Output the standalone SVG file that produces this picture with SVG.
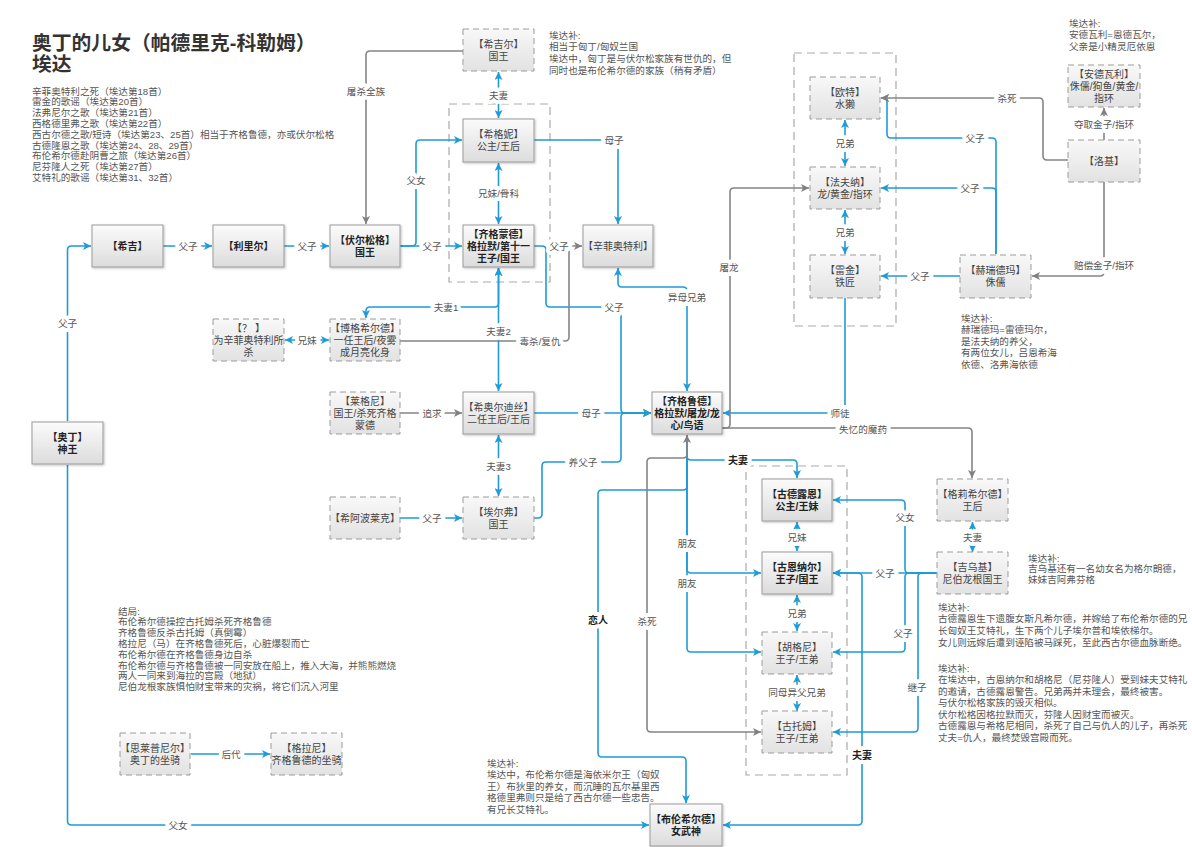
<svg xmlns="http://www.w3.org/2000/svg" width="1192" height="847" viewBox="0 0 1192 847">
<defs>
<linearGradient id="gs" x1="0" y1="0" x2="0" y2="1"><stop offset="0" stop-color="#fbfbfb"/><stop offset="1" stop-color="#dcdcdc"/></linearGradient>
<linearGradient id="gd" x1="0" y1="0" x2="0" y2="1"><stop offset="0" stop-color="#f8f8f8"/><stop offset="1" stop-color="#e2e2e2"/></linearGradient>
<filter id="sh" x="-10%" y="-10%" width="130%" height="130%"><feDropShadow dx="1" dy="1" stdDeviation="0.8" flood-color="#000" flood-opacity="0.25"/></filter>
<marker id="ab" viewBox="0 0 10 10" refX="10" refY="5" markerWidth="8" markerHeight="8" markerUnits="userSpaceOnUse" orient="auto-start-reverse"><path d="M0,0 L10,5 L0,10 L2.5,5 z" fill="#1f9bd7"/></marker>
<marker id="ag" viewBox="0 0 10 10" refX="10" refY="5" markerWidth="8" markerHeight="8" markerUnits="userSpaceOnUse" orient="auto-start-reverse"><path d="M0,0 L10,5 L0,10 L2.5,5 z" fill="#808080"/></marker>
<style>
text{font-family:"Liberation Sans","Noto Sans CJK SC",sans-serif;}
.bs{fill:url(#gs);stroke:#9b9b9b;stroke-width:1;filter:url(#sh);}
.bd{fill:url(#gd);stroke:#9b9b9b;stroke-width:1;stroke-dasharray:6 4;}
.grp{fill:none;stroke:#aaa;stroke-width:1.2;stroke-dasharray:8 5;}
.t{font-size:10px;fill:#444;text-anchor:middle;}
.tb{font-size:10px;fill:#222;text-anchor:middle;font-weight:bold;}
.cb{fill:none;stroke:#1f9bd7;stroke-width:1.6;}
.cg{fill:none;stroke:#858585;stroke-width:1.6;}
.eb{marker-end:url(#ab);}
.bb{marker-start:url(#ab);marker-end:url(#ab);}
.eg{marker-end:url(#ag);}
.bg{marker-start:url(#ag);marker-end:url(#ag);}
.lb{font-size:9.6px;fill:#555;text-anchor:middle;stroke:#fff;stroke-width:8;stroke-linejoin:round;paint-order:stroke;}
.lbb{font-size:10px;fill:#222;font-weight:bold;text-anchor:middle;stroke:#fff;stroke-width:8;stroke-linejoin:round;paint-order:stroke;}
.nt{font-size:9.6px;fill:#555;}
.ttl{font-size:19.8px;font-weight:bold;fill:#333;}
</style>
</defs>
<rect width="1192" height="847" fill="#fff"/>

<g id="title">
<text class="ttl" x="32" y="50">奥丁的儿女（帕德里克-科勒姆）</text>
<text class="ttl" x="32" y="71">埃达</text>
</g>
<g id="source-list" class="nt">
<text x="32" y="94.5">辛菲奥特利之死（埃达第18首）</text>
<text x="32" y="105.3">雷金的歌谣（埃达第20首）</text>
<text x="32" y="116.1">法弗尼尔之歌（埃达第21首）</text>
<text x="32" y="126.9">西格德里弗之歌（埃达第22首）</text>
<text x="32" y="137.7">西古尔德之歌/短诗（埃达第23、25首）相当于齐格鲁德，亦或伏尔松格</text>
<text x="32" y="148.5">古德隆恩之歌（埃达第24、28、29首）</text>
<text x="32" y="159.3">布伦希尔德赴阴曹之旅（埃达第26首）</text>
<text x="32" y="170.1">尼芬隆人之死（埃达第27首）</text>
<text x="32" y="180.9">艾特礼的歌谣（埃达第31、32首）</text>
</g>

<g id="notes" class="nt">
<text x="549" y="38.5">埃达补:</text>
<text x="549" y="50.3">相当于匈丁/匈奴兰国</text>
<text x="549" y="62">埃达中，匈丁是与伏尔松家族有世仇的，但</text>
<text x="549" y="73.8">同时也是布伦希尔德的家族（稍有矛盾）</text>

<text x="1069" y="26.5">埃达补:</text>
<text x="1069" y="38">安德瓦利=恩德瓦尔，</text>
<text x="1069" y="49.5">父亲是小精灵厄依恩</text>

<text x="961" y="321.5">埃达补:</text>
<text x="961" y="333.1">赫瑞德玛=雷德玛尔，</text>
<text x="961" y="344.7">是法夫纳的养父，</text>
<text x="961" y="356.3">有两位女儿，吕恩希海</text>
<text x="961" y="367.9">依德、洛弗海依德</text>

<text x="1028" y="561.5">埃达补:</text>
<text x="1028" y="572.3">吉乌基还有一名幼女名为格尔朗德，</text>
<text x="1028" y="583.1">妹妹吉阿弗芬格</text>

<text x="938" y="610.5">埃达补:</text>
<text x="938" y="622.3">古德露恩生下遗腹女斯凡希尔德，并嫁给了布伦希尔德的兄</text>
<text x="938" y="634.1">长匈奴王艾特礼，生下两个儿子埃尔普和埃依梯尔。</text>
<text x="938" y="645.9">女儿则远嫁后遭到诬陷被马踩死，至此西古尔德血脉断绝。</text>

<text x="938" y="671.5">埃达补:</text>
<text x="938" y="683">在埃达中，古恩纳尔和胡格尼（尼芬隆人）受到妹夫艾特礼</text>
<text x="938" y="694.5">的邀请，古德露恩警告。兄弟两并未理会，最终被害。</text>
<text x="938" y="706">与伏尔松格家族的毁灭相似。</text>
<text x="938" y="717.5">伏尔松格因格拉默而灭，芬隆人因财宝而被灭。</text>
<text x="938" y="729">古德露恩与希格尼相同，杀死了自己与仇人的儿子，再杀死</text>
<text x="938" y="740.5">丈夫=仇人，最终焚毁宫殿而死。</text>

<text x="118" y="614.5">结局:</text>
<text x="118" y="625.3">布伦希尔德操控古托姆杀死齐格鲁德</text>
<text x="118" y="636.1">齐格鲁德反杀古托姆（真倒霉）</text>
<text x="118" y="646.9">格拉尼（马）在齐格鲁德死后，心脏爆裂而亡</text>
<text x="118" y="657.7">布伦希尔德在齐格鲁德身边自杀</text>
<text x="118" y="668.5">布伦希尔德与齐格鲁德被一同安放在船上，推入大海，并熊熊燃烧</text>
<text x="118" y="679.3">两人一同来到海拉的宫殿（地狱）</text>
<text x="118" y="690.1">尼伯龙根家族惧怕财宝带来的灾祸，将它们沉入河里</text>

<text x="487" y="766.5">埃达补:</text>
<text x="487" y="778">埃达中，布伦希尔德是海依米尔王（匈奴</text>
<text x="487" y="789.5">王）布狄里的养女，而沉睡的瓦尔基里西</text>
<text x="487" y="801">格德里弗则只是给了西古尔德一些忠告。</text>
<text x="487" y="812.5">有兄长艾特礼。</text>
</g>

<g id="groups">
<rect class="grp" x="449" y="104" width="101" height="178"/>
<rect class="grp" x="794" y="53" width="102" height="273"/>
<rect class="grp" x="746" y="466" width="101" height="309"/>
</g>

<g id="connectors">
<path class="cb bb" d="M498.5,72 V118"/>
<path class="cg eg" d="M463,51 H370 Q366,51 366,55 V224"/>
<path class="cb eb" d="M400,246 H412 Q416,246 416,242 V144 Q416,140 420,140 H462"/>
<path class="cb eb" d="M400,246 H462"/>
<path class="cb bb" d="M498.5,163 V224"/>
<path class="cb eb" d="M534,140 H614 Q618,140 618,144 V224"/>
<path class="cb eb" d="M534,246 H542 Q546,246 546,250 V303 Q546,307 550,307 H617 Q621,307 621,311 V409 Q621,413 625,413 H651"/>
<path class="cb bb" d="M498.5,268 V303 Q498.5,307 494.5,307 H370 Q366,307 366,311 V318"/>
<path class="cb bb" d="M498.5,268 V391"/>
<path class="cg eg" d="M400,341 H565 Q569,341 569,337 V250 Q569,246 573,246 H582"/>
<path class="cb bb" d="M498.5,435 V496"/>
<path class="cb bb" d="M285,340 H329"/>
<path class="cg eg" d="M400,413 H462"/>
<path class="cb eb" d="M400,518 H462"/>
<path class="cb eb" d="M534,413 H651"/>
<path class="cb bb" d="M687,391 V291 Q687,287 683,287 H622 Q618,287 618,283 V268"/>
<path class="cb eb" d="M534,518 H538 Q542,518 542,514 V466 Q542,462 546,462 H617 Q621,462 621,458 V417 Q621,413 625,413 H651"/>
<path class="cb eb" d="M845,298 V409 Q845,413 841,413 H723"/>
<path class="cg eg" d="M722,428 H726 Q730,428 730,424 V192 Q730,188 734,188 H809"/>
<path class="cg eg" d="M722,428 H968 Q972,428 972,432 V478"/>
<path class="cb bb" d="M845,120 V166"/>
<path class="cb bb" d="M845,210 V254"/>
<path class="cb eb" d="M960,276 H881"/>
<path class="cb eb" d="M996,254 V142 Q996,138 992,138 H891 Q887,138 887,134 V102 Q887,98 883,98 H881"/>
<path class="cb eb" d="M996,254 V192 Q996,188 992,188 H881"/>
<path class="cg eg" d="M1068,160 H1047 Q1043,160 1043,156 V102 Q1043,98 1039,98 H881"/>
<path class="cg eg" d="M1104,140 V108"/>
<path class="cg eg" d="M1104,182 V272 Q1104,276 1100,276 H1032"/>
<path class="cb bb" d="M972.5,522 V552"/>
<path class="cb eb" d="M937,573 H909 Q905,573 905,569 V504 Q905,500 901,500 H833"/>
<path class="cb eb" d="M937,573 H833"/>
<path class="cb eb" d="M937,573 H909 Q905,573 905,577 V648 Q905,652 901,652 H833"/>
<path class="cb eb" d="M937,573 H922 Q918,573 918,577 V728 Q918,732 914,732 H833"/>
<path class="cb bb" d="M833,573 H858 Q862,573 862,577 V821 Q862,825 858,825 H723"/>
<path class="cb bb" d="M797,522 V551"/>
<path class="cb bb" d="M797,595 V631"/>
<path class="cb bb" d="M797,675 V711"/>
<path class="cb eb" d="M687,441 V456 Q687,460 691,460 H793 Q797,460 797,464 V478"/>
<path class="cb eb" d="M687,441 V569 Q687,573 691,573 H761"/>
<path class="cb eb" d="M687,441 V648 Q687,652 691,652 H761"/>
<path class="cb eb" d="M687,441 V486 Q687,490 683,490 H602 Q598,490 598,494 V753 Q598,757 602,757 H682 Q686,757 686,761 V803"/>
<path class="cg bg" d="M687,435 V454 Q687,458 683,458 H651 Q647,458 647,462 V728 Q647,732 651,732 H761"/>
<path class="cb eb" d="M67.5,421 V250 Q67.5,246 71.5,246 H91"/>
<path class="cb eb" d="M67.5,465 V821 Q67.5,825 71.5,825 H649"/>
<path class="cb eb" d="M163,246 H212"/>
<path class="cb eb" d="M284,246 H329"/>
<path class="cb eb" d="M191,754 H270"/>
</g>

<g id="labels">
<text class="lb" x="366" y="94.5">屠杀全族</text>
<text class="lb" x="498.5" y="98.5">夫妻</text>
<text class="lb" x="416" y="183.5">父女</text>
<text class="lb" x="432" y="249.5">父子</text>
<text class="lb" x="498.5" y="196.5">兄妹/骨科</text>
<text class="lb" x="614" y="143.5">母子</text>
<text class="lb" x="559" y="249.5">父子</text>
<text class="lb" x="614" y="310.5">父子</text>
<text class="lb" x="446" y="310.5">夫妻1</text>
<text class="lb" x="498.5" y="334.5">夫妻2</text>
<text class="lb" x="540" y="344.5">毒杀/复仇</text>
<text class="lb" x="498.5" y="469.5">夫妻3</text>
<text class="lb" x="307" y="343.5">兄妹</text>
<text class="lb" x="432" y="416.5">追求</text>
<text class="lb" x="432" y="521.5">父子</text>
<text class="lb" x="591" y="416.5">母子</text>
<text class="lb" x="687" y="300.5">异母兄弟</text>
<text class="lb" x="583" y="465.5">养父子</text>
<text class="lb" x="840" y="416.5">师徒</text>
<text class="lb" x="729" y="270.5">屠龙</text>
<text class="lb" x="863" y="432.5">失忆的魔药</text>
<text class="lb" x="845" y="146.5">兄弟</text>
<text class="lb" x="845" y="235.5">兄弟</text>
<text class="lb" x="920" y="279.5">父子</text>
<text class="lb" x="975" y="141.5">父子</text>
<text class="lb" x="970" y="191.5">父子</text>
<text class="lb" x="1007" y="101.5">杀死</text>
<text class="lb" x="1104" y="127.5">夺取金子/指环</text>
<text class="lb" x="1104" y="268.5">赔偿金子/指环</text>
<text class="lb" x="972.5" y="540.5">夫妻</text>
<text class="lb" x="905" y="520.5">父女</text>
<text class="lb" x="885" y="576.5">父子</text>
<text class="lb" x="903" y="636.5">父子</text>
<text class="lb" x="917" y="690.5">继子</text>
<text class="lbb" x="862" y="758.5">夫妻</text>
<text class="lb" x="797" y="540.5">兄妹</text>
<text class="lb" x="797" y="616.5">兄弟</text>
<text class="lb" x="797" y="695.5">同母异父兄弟</text>
<text class="lbb" x="738" y="463.5">夫妻</text>
<text class="lb" x="687" y="546.5">朋友</text>
<text class="lb" x="687" y="586.5">朋友</text>
<text class="lbb" x="598" y="623.5">恋人</text>
<text class="lb" x="647" y="624.5">杀死</text>
<text class="lb" x="67.5" y="326.5">父子</text>
<text class="lb" x="178" y="828.5">父女</text>
<text class="lb" x="188" y="249.5">父子</text>
<text class="lb" x="307" y="249.5">父子</text>
<text class="lb" x="231" y="757.5">后代</text>
</g>

<g id="n-xijier"><rect class="bd" x="463" y="29" width="71" height="42"/><text class="t" x="498.5" y="47.5">【希吉尔】</text><text class="t" x="498.5" y="59.5">国王</text></g>
<g id="n-xigeni"><rect class="bs" x="463" y="119" width="71" height="43"/><text class="t" x="498.5" y="138">【希格妮】</text><text class="t" x="498.5" y="150">公主/王后</text></g>
<g id="n-qigemengde"><rect class="bs" x="463" y="225" width="71" height="42"/><text class="tb" x="498.5" y="237.5">【齐格蒙德】</text><text class="tb" x="498.5" y="249.5">格拉默/第十一</text><text class="tb" x="498.5" y="261.5">王子/国王</text></g>
<g id="n-xinfeiaoteli"><rect class="bs" x="583" y="225" width="70" height="42"/><text class="t" x="618" y="249.5">【辛菲奥特利】</text></g>
<g id="n-xiji"><rect class="bs" x="92" y="225" width="71" height="42"/><text class="tb" x="127.5" y="249.5">【希吉】</text></g>
<g id="n-lilier"><rect class="bs" x="213" y="225" width="71" height="42"/><text class="tb" x="248.5" y="249.5">【利里尔】</text></g>
<g id="n-fuersongge"><rect class="bs" x="330" y="225" width="70" height="42"/><text class="tb" x="365" y="243.5">【伏尔松格】</text><text class="tb" x="365" y="255.5">国王</text></g>
<g id="n-bogexierde"><rect class="bd" x="330" y="319" width="70" height="42"/><text class="t" x="365" y="331.5">【博格希尔德】</text><text class="t" x="365" y="343.5">一任王后/夜雾</text><text class="t" x="365" y="355.5">成月亮化身</text></g>
<g id="n-unknown"><rect class="bd" x="213" y="319" width="71" height="42"/><text class="t" x="248.5" y="331.5">【？ 】</text><text class="t" x="248.5" y="343.5">为辛菲奥特利所</text><text class="t" x="248.5" y="355.5">杀</text></g>
<g id="n-laigeni"><rect class="bd" x="330" y="392" width="70" height="42"/><text class="t" x="365" y="404.5">【莱格尼】</text><text class="t" x="365" y="416.5">国王/杀死齐格</text><text class="t" x="365" y="428.5">蒙德</text></g>
<g id="n-xiaoerdisi"><rect class="bs" x="463" y="392" width="71" height="42"/><text class="t" x="498.5" y="410.5">【希奥尔迪丝】</text><text class="t" x="498.5" y="422.5">二任王后/王后</text></g>
<g id="n-xiabolaike"><rect class="bd" x="330" y="497" width="70" height="42"/><text class="t" x="365" y="521.5">【希阿波莱克】</text></g>
<g id="n-aierfu"><rect class="bd" x="463" y="497" width="71" height="42"/><text class="t" x="498.5" y="515.5">【埃尔弗】</text><text class="t" x="498.5" y="527.5">国王</text></g>
<g id="n-odin"><rect class="bs" x="32" y="422" width="71" height="42"/><text class="tb" x="67.5" y="440.5">【奥丁】</text><text class="tb" x="67.5" y="452.5">神王</text></g>
<g id="n-qigelude"><rect class="bs" x="652" y="392" width="70" height="42"/><text class="tb" x="687" y="404.5">【齐格鲁德】</text><text class="tb" x="687" y="416.5">格拉默/屠龙/龙</text><text class="tb" x="687" y="428.5">心/鸟语</text></g>
<g id="n-oute"><rect class="bd" x="810" y="77" width="70" height="42"/><text class="t" x="845" y="95.5">【欧特】</text><text class="t" x="845" y="107.5">水獭</text></g>
<g id="n-fafuna"><rect class="bd" x="810" y="167" width="70" height="42"/><text class="t" x="845" y="185.5">【法夫纳】</text><text class="t" x="845" y="197.5">龙/黄金/指环</text></g>
<g id="n-leijin"><rect class="bd" x="810" y="255" width="70" height="43"/><text class="t" x="845" y="274">【雷金】</text><text class="t" x="845" y="286">铁匠</text></g>
<g id="n-andewali"><rect class="bd" x="1068" y="65" width="72" height="42"/><text class="t" x="1104" y="77.5">【安德瓦利】</text><text class="t" x="1104" y="89.5">侏儒/狗鱼/黄金/</text><text class="t" x="1104" y="101.5">指环</text></g>
<g id="n-loki"><rect class="bd" x="1068" y="140" width="72" height="42"/><text class="t" x="1104" y="164.5">【洛基】</text></g>
<g id="n-heruidema"><rect class="bd" x="960" y="255" width="71" height="43"/><text class="t" x="995.5" y="274">【赫瑞德玛】</text><text class="t" x="995.5" y="286">侏儒</text></g>
<g id="n-gelixierde"><rect class="bd" x="937" y="479" width="71" height="42"/><text class="t" x="972.5" y="497.5">【格莉希尔德】</text><text class="t" x="972.5" y="509.5">王后</text></g>
<g id="n-jiwuji"><rect class="bd" x="937" y="552" width="71" height="42"/><text class="t" x="972.5" y="570.5">【吉乌基】</text><text class="t" x="972.5" y="582.5">尼伯龙根国王</text></g>
<g id="n-gudelouen"><rect class="bs" x="762" y="479" width="70" height="42"/><text class="tb" x="797" y="497.5">【古德露恩】</text><text class="tb" x="797" y="509.5">公主/王妹</text></g>
<g id="n-guennaer"><rect class="bs" x="762" y="552" width="70" height="42"/><text class="tb" x="797" y="570.5">【古恩纳尔】</text><text class="tb" x="797" y="582.5">王子/国王</text></g>
<g id="n-hugeni"><rect class="bd" x="762" y="632" width="70" height="42"/><text class="t" x="797" y="650.5">【胡格尼】</text><text class="t" x="797" y="662.5">王子/王弟</text></g>
<g id="n-gutuomu"><rect class="bd" x="762" y="711" width="70" height="42"/><text class="t" x="797" y="729.5">【古托姆】</text><text class="t" x="797" y="741.5">王子/王弟</text></g>
<g id="n-brynhild"><rect class="bs" x="650" y="804" width="72" height="42"/><text class="tb" x="686" y="822.5">【布伦希尔德】</text><text class="tb" x="686" y="834.5">女武神</text></g>
<g id="n-sleipnir"><rect class="bd" x="120" y="733" width="70" height="42"/><text class="t" x="155" y="751.5">【思莱普尼尔】</text><text class="t" x="155" y="763.5">奥丁的坐骑</text></g>
<g id="n-gelani"><rect class="bd" x="271" y="733" width="71" height="42"/><text class="t" x="306.5" y="751.5">【格拉尼】</text><text class="t" x="306.5" y="763.5">齐格鲁德的坐骑</text></g>
</svg>
